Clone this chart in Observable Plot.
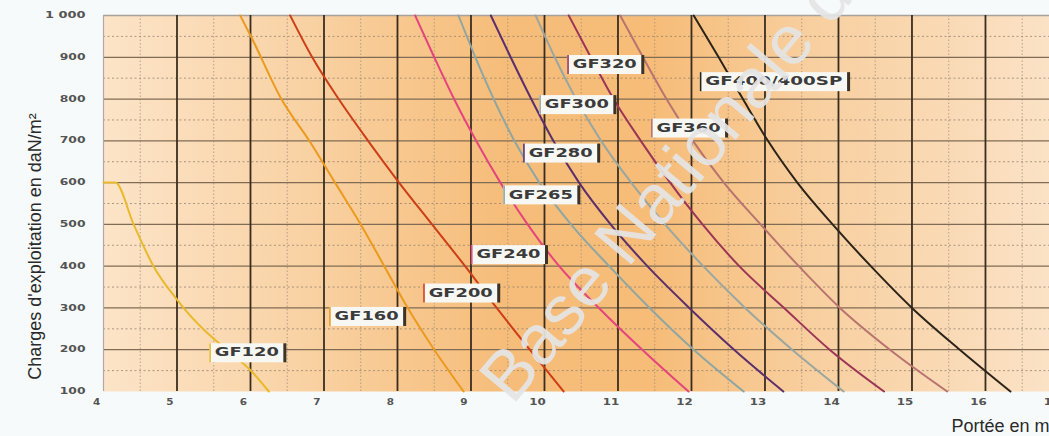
<!DOCTYPE html>
<html>
<head>
<meta charset="utf-8">
<script src="https://cdn.jsdelivr.net/npm/d3@7"></script>
<script src="https://cdn.jsdelivr.net/npm/@observablehq/plot@0.6"></script>
<style>
html, body { margin: 0; padding: 0; background: #f7fafb; overflow: hidden; }
#chart { position: relative; width: 1049px; height: 436px; overflow: hidden; }
#chart svg { max-width: none !important; }
</style>
</head>
<body>
<div id="chart"></div>
<script>
// ---- data -------------------------------------------------------------
const seriesNames  = ["GF120","GF160","GF200","GF240","GF265","GF280","GF300","GF320","GF360","GF400/400SP"];
const seriesColors = ["#e9b92c","#eb9a1e","#cd3e16","#e4457c","#8fa6a2","#5b2f6c","#9aa6a0","#9c3556","#b8746e","#2d2419"];

// [portée (m), charge (daN/m²)]
const GF120 = [[4.0,600],[4.16,600],[4.41,500],[4.68,400],[5.0,320],[5.1,298],[5.5,226],[5.77,187],[6.0,151],[6.25,100]];
const GF160 = [[5.86,1000],[6.02,945],[6.42,800],[6.8,700],[7.15,600],[7.5,500],[7.82,400],[8.14,300],[8.5,200],[8.9,100]];
const GF200 = [[6.54,1000],[6.84,900],[7.2,800],[7.6,700],[8.0,605],[8.47,500],[8.92,400],[9.35,300],[9.8,200],[10.26,100]];
const GF240 = [[8.24,1000],[8.5,900],[8.77,800],[9.07,700],[9.4,600],[9.77,500],[10.2,400],[10.74,300],[11.33,200],[11.96,100]];
const GF265 = [[8.83,1000],[9.06,900],[9.31,800],[9.59,700],[9.93,600],[10.36,500],[10.88,400],[11.43,300],[12.03,200],[12.71,100]];
const GF280 = [[9.27,1000],[9.54,900],[9.82,800],[10.12,700],[10.47,600],[10.9,500],[11.4,400],[11.97,300],[12.58,200],[13.25,100]];
const GF300 = [[9.88,1000],[10.14,900],[10.43,800],[10.77,700],[11.18,600],[11.64,500],[12.16,400],[12.73,300],[13.37,200],[14.07,100]];
const GF320 = [[10.33,1000],[10.63,900],[10.94,800],[11.31,700],[11.71,600],[12.15,500],[12.65,400],[13.26,300],[13.88,200],[14.62,100]];
const GF360 = [[11.03,1000],[11.34,900],[11.66,800],[12.02,700],[12.44,600],[12.94,500],[13.46,400],[14.02,300],[14.7,200],[15.48,100]];
const GF400 = [[12.03,1000],[12.37,900],[12.7,800],[13.04,700],[13.44,600],[13.92,500],[14.44,400],[15.0,300],[15.65,200],[16.34,100]];
const seriesData = [GF120, GF160, GF200, GF240, GF265, GF280, GF300, GF320, GF360, GF400];

// curve labels (data coordinates of label centres)
const labelNames = ["GF120","GF160","GF200","GF240","GF265","GF280","GF300","GF320","GF360","GF400/400SP"];
const labelX = [5.95, 7.58, 8.86, 9.51, 9.95, 10.22, 10.44, 10.82, 11.96, 13.12];
const labelY = [193, 280, 336, 428, 571, 671, 787, 883, 731, 842];

// axes
const xTicks = [4,5,6,7,8,9,10,11,12,13,14,15,16,17];
const xHalfTicks = [4.5,5.5,6.5,7.5,8.5,9.5,10.5,11.5,12.5,13.5,14.5,15.5,16.5,17.5];
const yTicks = [100,200,300,400,500,600,700,800,900,1000];
const yTickLabels = ["100","200","300","400","500","600","700","800","900","1 000"];
const yHalfTicks = [150,250,350,450,550,650,750,850,950];
const yTitle = "Charges d'exploitation en daN/m²";
const xTitle = "Portée en m";
const watermark = [{text: "Base Nationale des", x: 9.33, y: 100}];

// ---- build ------------------------------------------------------------
const rows = seriesNames.flatMap((n, k) => seriesData[k].map(([x, y]) => ({series: n, x, y})));
const labelRows = labelNames.map((n, i) => ({name: n, x: labelX[i], y: labelY[i]}));

const chart = Plot.plot({
  width: 1100,
  height: 436,
  marginLeft: 103,
  marginRight: 0,
  marginTop: 15,
  marginBottom: 45,
  style: {background: "transparent", overflow: "visible", maxWidth: "none"},
  x: {domain: [4, 17.565], axis: null},
  y: {domain: [100, 1000], axis: null},
  color: {domain: seriesNames, range: seriesColors},
  marks: [
    Plot.frame({fill: "url(#bgGrad)", stroke: "none"}),
    Plot.ruleY(yHalfTicks, {stroke: "#8f7e6a", strokeWidth: 1, strokeDasharray: "2,2.5", strokeOpacity: 0.75}),
    Plot.ruleX(xHalfTicks, {stroke: "#9d8d78", strokeWidth: 1, strokeDasharray: "1.5,2", strokeOpacity: 0.75}),
    Plot.ruleY(yTicks.filter(d => d > 100 && d < 1000), {stroke: "#806c55", strokeWidth: 1.3}),
    Plot.ruleY([1000], {stroke: "#a7a19a", strokeWidth: 1.4}),
    Plot.ruleX(xTicks.filter(d => d > 4), {stroke: "#3a2d20", strokeWidth: 1.8}),
    Plot.ruleX([4], {stroke: "#b0aaa2", strokeWidth: 1.2}),
    Plot.line(rows, {x: "x", y: "y", z: "series", stroke: "series", strokeWidth: 2, curve: "monotone-x"}),
    Plot.text(labelRows, {x: "x", y: "y", text: "name", fontFamily: "DejaVu Sans", fontWeight: "bold", fontSize: 12, fill: "#3b3b3b"}),
    Plot.text(yTicks, {y: d => d, frameAnchor: "left", text: d => yTickLabels[yTicks.indexOf(d)], textAnchor: "end", dx: -18, fontFamily: "DejaVu Sans", fontWeight: "bold", fontSize: 8, fill: "#545454"}),
    Plot.text(xTicks, {x: d => d, frameAnchor: "bottom", text: d => String(d), dy: 13, dx: -7, fontFamily: "DejaVu Sans", fontWeight: "bold", fontSize: 8, fill: "#545454"}),
    Plot.text([yTitle], {frameAnchor: "left", rotate: -90, textAnchor: "middle", dx: -68, dy: 43, fontFamily: "Liberation Sans", fontSize: 18, fill: "#2a2a2a"}),
    Plot.text([xTitle], {frameAnchor: "bottom-right", textAnchor: "end", dx: -51, dy: 40, fontFamily: "Liberation Sans", fontSize: 18, fill: "#2a2a2a"}),
    Plot.text(watermark, {x: "x", y: "y", text: "text", rotate: -50, textAnchor: "start", fontFamily: "Liberation Sans", fontSize: 70, fill: "#e4e4e4", fillOpacity: 0.93})
  ]
});

document.getElementById("chart").append(chart);

// background gradient
const NS = "http://www.w3.org/2000/svg";
const defs = document.createElementNS(NS, "defs");
defs.innerHTML = `<linearGradient id="bgGrad" x1="0" y1="0" x2="1" y2="0">
  <stop offset="0" stop-color="#fce4c8"/>
  <stop offset="0.19" stop-color="#f9d3a6"/>
  <stop offset="0.40" stop-color="#f6bd7a"/>
  <stop offset="0.55" stop-color="#f6bc78"/>
  <stop offset="0.71" stop-color="#f8cf9f"/>
  <stop offset="0.95" stop-color="#fbe2c6"/>
  <stop offset="1" stop-color="#fbe4ca"/>
</linearGradient>`;
chart.insertBefore(defs, chart.firstChild);

// widen a text run (wide extended lettering of the original)
function widen(t, factor, gap) {
  const w = t.getComputedTextLength();
  const n = t.textContent.length;
  t.setAttribute("textLength", w * factor + gap * (n - 1));
  t.setAttribute("lengthAdjust", "spacingAndGlyphs");
}

const tickSet = new Set([...yTickLabels, ...xTicks.map(String)]);
const labelIndex = new Map(labelNames.map((n, i) => [n, i]));
chart.querySelectorAll("text").forEach(t => {
  if (tickSet.has(t.textContent)) widen(t, 1.3, 2);
});
// label boxes
chart.querySelectorAll("text").forEach(t => {
  const s = t.textContent;
  if (!labelIndex.has(s)) return;
  widen(t, 1.3, 2);
  const k = labelIndex.get(s);
  const bb = t.getBBox();
  const x1 = bb.x - 5.5, x2 = bb.x + bb.width + 5.5;
  const cy = bb.y + bb.height / 2 + 0.3;
  const tr = t.getAttribute("transform");
  const mk = (x, w, fill) => {
    const r = document.createElementNS(NS, "rect");
    r.setAttribute("x", x); r.setAttribute("y", cy - 9.5);
    r.setAttribute("width", w); r.setAttribute("height", 19);
    r.setAttribute("fill", fill);
    if (tr) r.setAttribute("transform", tr);
    t.parentNode.insertBefore(r, t);
  };
  mk(x1, x2 - x1, "#f7f7f3");
  mk(x1, 1.6, seriesColors[k]);
  mk(x2 - 1, 3, "#3d3226");
});
</script>
</body>
</html>
